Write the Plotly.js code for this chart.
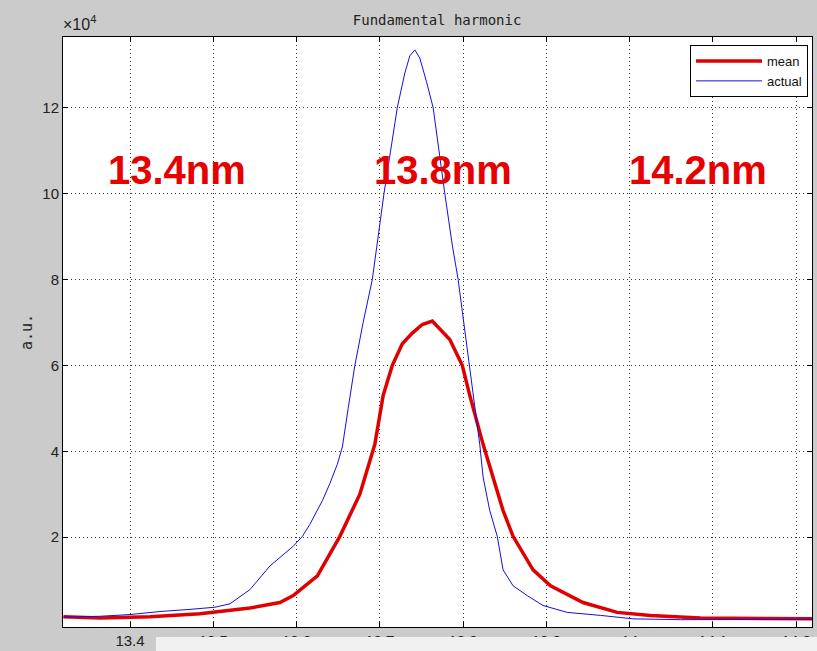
<!DOCTYPE html>
<html>
<head>
<meta charset="utf-8">
<script src="https://cdn.plot.ly/plotly-3.0.1.min.js"></script>
<style>html,body{margin:0;padding:0;background:#cbcbcb;}#chart{width:817px;height:651px;}</style>
</head>
<body>
<div id="chart"></div>
<script>
// Wavelength (nm) and intensity (a.u.)
const actualX = [13.320, 13.364, 13.400, 13.436, 13.472, 13.502, 13.520, 13.544, 13.568, 13.596, 13.607, 13.616, 13.631, 13.640, 13.649, 13.655, 13.662, 13.670, 13.680, 13.691, 13.705, 13.721, 13.730, 13.736, 13.742, 13.748, 13.756, 13.764, 13.778, 13.787, 13.794, 13.808, 13.820, 13.824, 13.832, 13.841, 13.848, 13.860, 13.877, 13.896, 13.925, 13.965, 14.004, 14.061, 14.133, 14.219];
const actualY = [1400, 1600, 2000, 2700, 3200, 3700, 4500, 7800, 13300, 17900, 20200, 23000, 28500, 32500, 37000, 41000, 50000, 60000, 70000, 80000, 100000, 120000, 128000, 132000, 133400, 131500, 126000, 120000, 100000, 88000, 80000, 60000, 41600, 34000, 26200, 20200, 12400, 8700, 6400, 4100, 2500, 1800, 1000, 800, 800, 900];

const meanX = [13.320, 13.364, 13.424, 13.484, 13.544, 13.580, 13.596, 13.625, 13.652, 13.676, 13.694, 13.704, 13.715, 13.727, 13.739, 13.751, 13.763, 13.772, 13.784, 13.799, 13.808, 13.824, 13.848, 13.860, 13.884, 13.905, 13.944, 13.985, 14.025, 14.085, 14.157, 14.219];
const meanY = [1500, 1200, 1500, 2200, 3500, 4800, 6400, 11000, 20200, 30000, 41600, 53000, 60000, 65000, 67500, 69500, 70300, 68500, 66000, 60000, 53000, 41600, 26200, 20200, 12400, 8700, 4800, 2500, 1800, 1200, 1000, 1000];

const xTickVals = [13.4, 13.5, 13.6, 13.7, 13.8, 13.9, 14.0, 14.1, 14.2];
const xTickText = ["13.4", "13.5", "13.6", "13.7", "13.8", "13.9", "14", "14.1", "14.2"];
const yTickVals = [20000, 40000, 60000, 80000, 100000, 120000];
const yTickText = ["2", "4", "6", "8", "10", "12"];
const seriesNames = ["mean", "actual"];
const markerLabels = ["13.4nm", "13.8nm", "14.2nm"];

const traces = [
  {x: meanX, y: meanY, name: seriesNames[0], mode: "lines",
   line: {color: "#e00000", width: 3.5}},
  {x: actualX, y: actualY, name: seriesNames[1], mode: "lines",
   line: {color: "#1010e0", width: 1}}
];

const axisCommon = {
  showline: true, linecolor: "#000", linewidth: 1, mirror: "ticks",
  ticks: "inside", ticklen: 5, tickcolor: "#000",
  showgrid: true, gridcolor: "#333", gridwidth: 1, griddash: "1px,3px",
  zeroline: false,
  tickfont: {family: "Liberation Sans, Arial, sans-serif", size: 15, color: "#222"}
};

const redFont = {family: "Liberation Sans, Arial, sans-serif", size: 40, color: "#e60000"};

const layout = {
  width: 817, height: 651,
  paper_bgcolor: "#cbcbcb", plot_bgcolor: "#ffffff",
  margin: {l: 63, r: 5, t: 37, b: 24},
  showlegend: true,
  title: {text: "Fundamental harmonic", x: 0.535, xanchor: "center", y: 0.969, yanchor: "middle",
          font: {family: "DejaVu Sans Mono, monospace", size: 14, color: "#222"}},
  xaxis: Object.assign({}, axisCommon, {range: [13.3195, 14.219], tickvals: xTickVals, ticktext: xTickText}),
  yaxis: Object.assign({}, axisCommon, {range: [-900, 136400], tickvals: yTickVals, ticktext: yTickText,
          title: {text: "a.u.", standoff: 6, font: {family: "DejaVu Sans Mono, monospace", size: 15, color: "#222"}}}),
  legend: {x: 0.9947, y: 0.9864, xanchor: "right", yanchor: "top",
           bgcolor: "#fff", bordercolor: "#000", borderwidth: 1,
           font: {family: "Liberation Sans, Arial, sans-serif", size: 13, color: "#111"},
           itemwidth: 66, tracegroupgap: 6},
  annotations: [
    {text: "×10<sup>4</sup>", xref: "paper", yref: "paper", x: -0.003, y: 1.003, xanchor: "left", yanchor: "bottom",
     showarrow: false, font: {family: "Liberation Sans, Arial, sans-serif", size: 16, color: "#222"}},
    {text: "<b>" + markerLabels[0] + "</b>", xref: "paper", yref: "paper", x: 0.152, y: 0.774,
     xanchor: "center", yanchor: "middle", showarrow: false, font: redFont},
    {text: "<b>" + markerLabels[1] + "</b>", xref: "paper", yref: "paper", x: 0.507, y: 0.774,
     xanchor: "center", yanchor: "middle", showarrow: false, font: redFont},
    {text: "<b>" + markerLabels[2] + "</b>", xref: "paper", yref: "paper", x: 0.848, y: 0.774,
     xanchor: "center", yanchor: "middle", showarrow: false, font: redFont}
  ],
  shapes: [
    {type: "rect", xref: "paper", yref: "paper", x0: 0.124, x1: 1.01, y0: -0.0169, y1: -0.045,
     fillcolor: "#f0f0f0", line: {width: 0}, layer: "above"}
  ]
};

Plotly.newPlot("chart", traces, layout, {displayModeBar: false, staticPlot: true});
</script>
</body>
</html>
